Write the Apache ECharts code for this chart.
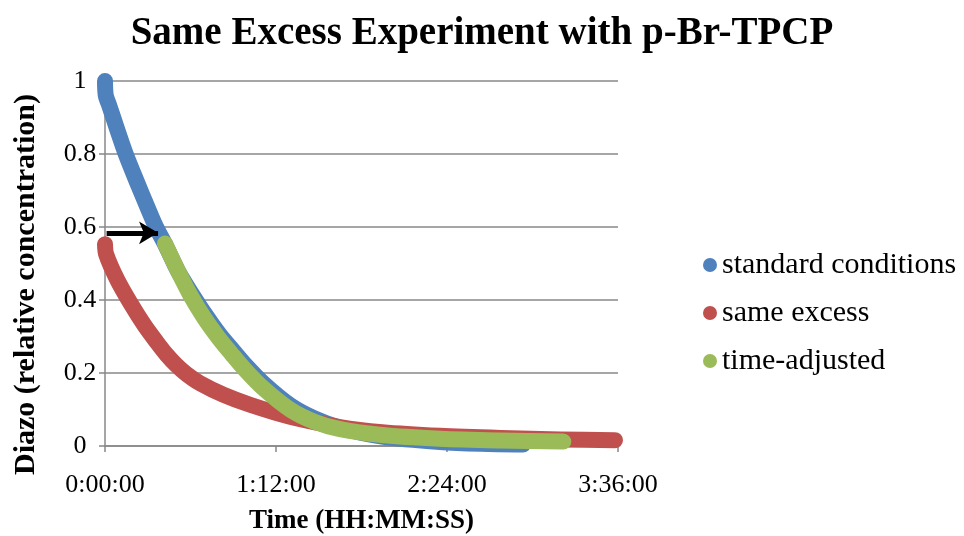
<!DOCTYPE html>
<html>
<head>
<meta charset="utf-8">
<script src="https://cdn.jsdelivr.net/npm/echarts@6/dist/echarts.min.js"></script>
<style>
  html, body { margin: 0; padding: 0; background: #fff; }
  #container { width: 964px; height: 536px; }
</style>
</head>
<body>
<div id="container"></div>
<script>
// time in seconds, diazo relative concentration
var standardTime = [0, 20, 100, 300, 523, 800, 1050, 1288, 1516, 1850, 2188, 2550, 2900, 3250, 3550, 4000, 4674, 5300, 5937, 7000, 8463, 9500, 10560];
var standardConc = [1.0, 0.96, 0.935, 0.87, 0.80, 0.725, 0.66, 0.60, 0.553, 0.478, 0.418, 0.358, 0.305, 0.26, 0.222, 0.172, 0.112, 0.075, 0.05, 0.026, 0.011, 0.006, 0.004];

var excessTime = [0, 30, 311, 650, 1000, 1304, 1558, 1800, 2061, 2400, 3000, 3663, 4674, 5937, 7000, 8463, 10000, 11500, 12884];
var excessConc = [0.553, 0.525, 0.455, 0.39, 0.33, 0.285, 0.25, 0.222, 0.197, 0.172, 0.14, 0.113, 0.08, 0.052, 0.038, 0.028, 0.022, 0.018, 0.016];

var adjustedTime = [1516, 1600, 1850, 2147, 2500, 2863, 3200, 3530, 4000, 4674, 5300, 5937, 7000, 8463, 10000, 11578];
var adjustedConc = [0.555, 0.535, 0.478, 0.415, 0.352, 0.297, 0.252, 0.21, 0.158, 0.1, 0.066, 0.046, 0.03, 0.02, 0.015, 0.012];

// arrow annotation: from t0 to t1 at level
var arrowTime = [40, 1340];
var arrowLevel = 0.584;

var seriesNames = ['standard conditions', 'same excess', 'time-adjusted'];
var seriesColors = ['#4F81BD', '#C0504D', '#9BBB59'];

function pairs(xs, ys) {
    return xs.map(function (x, i) { return [x, ys[i]]; });
}

function hms(v) {
    var h = Math.floor(v / 3600);
    var m = Math.floor((v % 3600) / 60);
    var s = Math.round(v % 60);
    return h + ':' + (m < 10 ? '0' : '') + m + ':' + (s < 10 ? '0' : '') + s;
}

var serif = '"Liberation Serif", "DejaVu Serif", serif';
var gridGray = '#888888';

var dom = document.getElementById('container');
var myChart = echarts.init(dom, null, { renderer: 'canvas' });

function band(name, color, data, z) {
    return {
        name: name,
        type: 'line',
        data: data,
        smooth: 0.3,
        symbol: 'none',
        z: z,
        color: color,
        lineStyle: { color: color, width: 16, cap: 'round', join: 'round' },
        animation: false
    };
}

var greenSeries = band(seriesNames[2], seriesColors[2], pairs(adjustedTime, adjustedConc), 4);
greenSeries.markLine = {
    silent: true,
    symbol: ['none', 'arrow'],
    symbolSize: [17, 19],
    label: { show: false },
    lineStyle: { color: '#000', width: 5, type: 'solid' },
    data: [[{ coord: [arrowTime[0], arrowLevel] }, { coord: [arrowTime[1], arrowLevel] }]]
};

var option = {
    backgroundColor: '#fff',
    title: {
        text: 'Same Excess Experiment with p-Br-TPCP',
        left: 'center',
        top: 9,
        textStyle: { fontFamily: serif, fontWeight: 'bold', fontSize: 39, color: '#000' }
    },
    legend: {
        orient: 'vertical',
        left: 698,
        top: 245,
        icon: 'circle',
        itemWidth: 14,
        itemHeight: 14,
        itemGap: 18,
        data: seriesNames,
        textStyle: { fontFamily: serif, fontSize: 30, color: '#000' }
    },
    grid: { left: 105, right: 346, top: 81, bottom: 90, outerBoundsMode: 'none', containLabel: false },
    xAxis: {
        type: 'value',
        min: 0,
        max: 12960,
        interval: 4320,
        name: 'Time (HH:MM:SS)',
        nameLocation: 'middle',
        nameGap: 62,
        nameTextStyle: { fontFamily: serif, fontWeight: 'bold', fontSize: 27, color: '#000' },
        axisLine: { onZero: false, lineStyle: { color: gridGray, width: 1.5 } },
        axisTick: { show: true, length: 6, lineStyle: { color: gridGray, width: 1.5 } },
        axisLabel: { formatter: hms, margin: 26, fontFamily: serif, fontSize: 26, color: '#000' },
        splitLine: { show: false }
    },
    yAxis: {
        type: 'value',
        min: 0,
        max: 1,
        interval: 0.2,
        name: 'Diazo (relative concentration)',
        nameLocation: 'middle',
        nameGap: 64,
        nameTextStyle: { fontFamily: serif, fontWeight: 'bold', fontSize: 30, color: '#000', padding: [0, 42, 0, 0] },
        axisLine: { show: true, lineStyle: { color: gridGray, width: 1.5 } },
        axisTick: { show: true, length: 6, lineStyle: { color: gridGray, width: 1.5 } },
        axisLabel: { margin: 25, align: 'center', fontFamily: serif, fontSize: 26, color: '#000' },
        splitLine: { show: true, lineStyle: { color: gridGray, width: 1.5 } }
    },
    series: [
        band(seriesNames[0], seriesColors[0], pairs(standardTime, standardConc), 2),
        band(seriesNames[1], seriesColors[1], pairs(excessTime, excessConc), 3),
        greenSeries
    ]
};

myChart.setOption(option);
window.addEventListener('resize', myChart.resize);
</script>
</body>
</html>
